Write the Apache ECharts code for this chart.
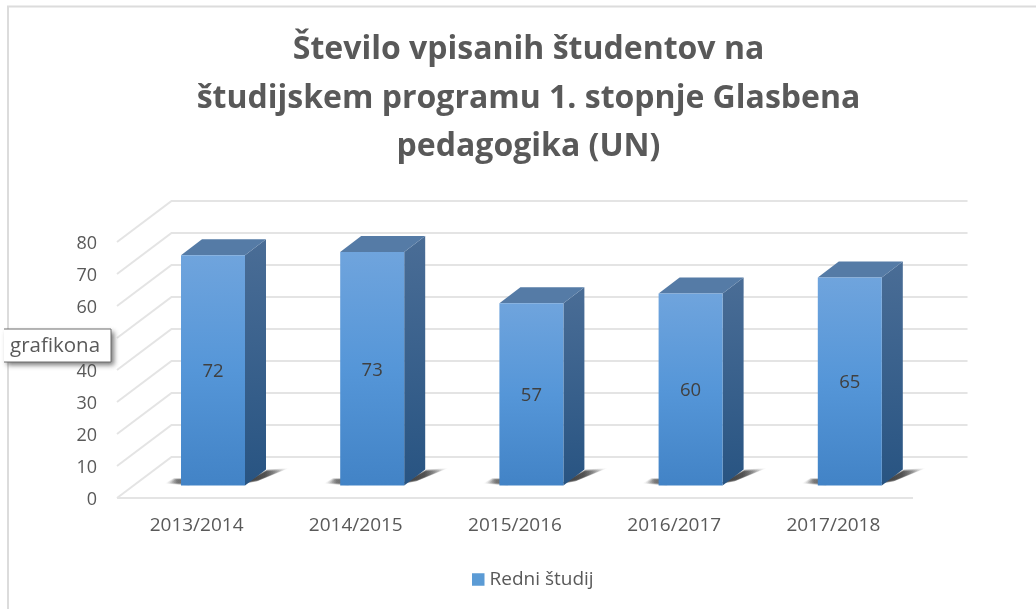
<!DOCTYPE html>
<html>
<head>
<meta charset="utf-8">
<title>Število vpisanih študentov</title>
<script src="https://cdn.jsdelivr.net/npm/echarts@6/dist/echarts.min.js"></script>
<style>
html, body { margin: 0; padding: 0; background: #fff; }
#main { width: 1036px; height: 609px; filter: blur(0.5px); }
</style>
</head>
<body>
<div id="main"></div>
<script>
var categories = ['2013/2014', '2014/2015', '2015/2016', '2016/2017', '2017/2018'];
var values = [72, 73, 57, 60, 65];
var tickValues = [0, 10, 20, 30, 40, 50, 60, 70, 80];
var seriesName = 'Redni študij';
var titleText = 'Število vpisanih študentov na\nštudijskem programu 1. stopnje Glasbena\npedagogika (UN)';

var chart = echarts.init(document.getElementById('main'));
var fontName = '"Open Sans", sans-serif';

// fake 3d: depth of the wall and of the bars, in px
var wallDx = 54.5, wallDy = -41;
var barShiftX = 16.4, barShiftY = -12.4;
var barWidth = 64, barDx = 21, barDy = -16;

function renderWall(params, api) {
    var sys = params.coordSys;
    var y = api.coord([0, api.value(1)])[1];
    var pts = [[sys.x, y], [sys.x + wallDx, y + wallDy], [sys.x + sys.width + wallDx, y + wallDy]];
    var lineStyle = { stroke: '#e4e4e4', lineWidth: 2, fill: null };
    if (api.value(1) === 0) {
        // floor: also the front edge, no slant on the right side
        return {
            type: 'group',
            children: [
                { type: 'polyline', shape: { points: pts }, style: lineStyle },
                { type: 'line', shape: { x1: sys.x, y1: y, x2: sys.x + sys.width, y2: y }, style: lineStyle }
            ]
        };
    }
    return { type: 'polyline', shape: { points: pts }, style: lineStyle };
}

// soft floor shadow: same quad a few times, growing, fading towards one side
function softShadow(pts, maxScale, fadeLeft, alpha) {
    var cx = 0, cy = 0, out = [];
    pts.forEach(function (p) { cx += p[0] / pts.length; cy += p[1] / pts.length; });
    for (var k = 7; k >= 0; k--) {
        var s = 1 + (maxScale - 1) * k / 7;
        out.push({
            type: 'polygon',
            shape: { points: pts.map(function (p) { return [cx + (p[0] - cx) * s, cy + (p[1] - cy) * s]; }) },
            style: {
                fill: {
                    type: 'linear', x: fadeLeft ? 1 : 0, y: 0, x2: fadeLeft ? 0 : 1, y2: 0,
                    colorStops: [
                        { offset: 0, color: 'rgba(25,25,25,' + alpha + ')' },
                        { offset: 0.5, color: 'rgba(25,25,25,' + alpha * 0.8 + ')' },
                        { offset: 1, color: 'rgba(25,25,25,0)' }
                    ]
                }
            }
        });
    }
    return out;
}

function renderBar(params, api) {
    var base = api.coord([api.value(0), 0]);
    var top = api.coord([api.value(0), api.value(1)]);
    var l = base[0] + barShiftX - barWidth / 2;
    var r = l + barWidth;
    var b = base[1] + barShiftY;
    var t = top[1] + barShiftY;
    var shadows = softShadow([[r + 3, b - 4], [r + 21, b - 14], [r + 36, b - 15], [r + 14, b - 6]], 1.5, false, 0.2)
        .concat(softShadow([[l - 10, b - 3], [l - 5, b - 6], [l + 4, b - 6], [l + 4, b - 2]], 1.8, true, 0.13));
    return {
        type: 'group',
        children: shadows.concat([
            {
                type: 'polygon',
                shape: { points: [[r, t], [r + barDx, t + barDy], [r + barDx, b + barDy], [r, b]] },
                style: {
                    fill: { type: 'linear', x: 0, y: 0, x2: 0, y2: 1, colorStops: [
                        { offset: 0, color: '#4a6d96' },
                        { offset: 1, color: '#285482' }
                    ] }
                }
            },
            {
                type: 'polygon',
                shape: { points: [[l, t], [l + barDx, t + barDy], [r + barDx, t + barDy], [r, t]] },
                style: { fill: '#557ba6' }
            },
            {
                type: 'rect',
                shape: { x: l, y: t, width: barWidth, height: b - t },
                style: {
                    fill: { type: 'linear', x: 0, y: 0, x2: 0, y2: 1, colorStops: [
                        { offset: 0, color: '#6fa4dd' },
                        { offset: 0.5, color: '#5596d8' },
                        { offset: 1, color: '#4283c6' }
                    ] }
                }
            },
            {
                type: 'text',
                style: {
                    x: (l + r) / 2, y: (t + b) / 2 + 1.5,
                    text: String(api.value(1)),
                    fill: '#404040',
                    font: '18.5px ' + fontName,
                    align: 'center', verticalAlign: 'middle'
                }
            }
        ])
    };
}

option = {
    animation: false,
    backgroundColor: '#ffffff',
    title: {
        text: titleText,
        left: 523.5,
        top: 21,
        textAlign: 'center',
        textStyle: {
            color: '#595959',
            fontFamily: fontName,
            fontWeight: 'bold',
            fontSize: 32,
            lineHeight: 48.5
        }
    },
    legend: {
        data: [seriesName],
        left: 472,
        top: 570,
        padding: 0,
        icon: 'rect',
        itemWidth: 12.5,
        itemHeight: 12.5,
        itemGap: 0,
        textStyle: { color: '#595959', fontFamily: fontName, fontSize: 19 }
    },
    grid: { left: 117, top: 242, width: 796, height: 256 },
    xAxis: {
        type: 'category',
        data: categories,
        axisLine: { show: false },
        axisTick: { show: false },
        axisLabel: { color: '#595959', fontFamily: fontName, fontSize: 19, margin: 18 }
    },
    yAxis: {
        type: 'value',
        min: 0,
        max: 80,
        interval: 10,
        splitLine: { show: false },
        axisLine: { show: false },
        axisTick: { show: false },
        axisLabel: {
            margin: 20,
            formatter: '{v|{value}}',
            rich: { v: { color: '#595959', fontFamily: fontName, fontSize: 18, padding: [4, 0, 0, 0] } }
        }
    },
    series: [
        {
            name: 'wall',
            type: 'custom',
            silent: true,
            renderItem: renderWall,
            encode: { x: 0, y: 1 },
            data: tickValues.map(function (v) { return [0, v]; }),
            z: 1
        },
        {
            name: seriesName,
            type: 'custom',
            renderItem: renderBar,
            itemStyle: { color: '#5b9bd5' },
            encode: { x: 0, y: 1 },
            data: values.map(function (v, i) { return [i, v]; }),
            z: 2
        }
    ],
    graphic: [
        { type: 'polyline', shape: { points: [[8, 609], [8, 6.5], [1036, 6.5]] }, style: { stroke: '#dcdcdc', lineWidth: 2, fill: null }, z: 0 },
        {
            type: 'rect', shape: { x: 4, y: 329, width: 107, height: 33 },
            style: { fill: '#fff', shadowBlur: 5, shadowOffsetX: 3, shadowOffsetY: 3, shadowColor: 'rgba(60,60,60,0.7)' },
            z: 20
        },
        { type: 'polyline', shape: { points: [[4, 329], [111, 329], [111, 362], [4, 362]] }, style: { stroke: '#6e6e6e', lineWidth: 1, fill: null }, z: 21 },
        {
            type: 'text', x: 10, y: 346,
            style: { text: 'grafikona', fill: '#595959', font: '20.5px ' + fontName, verticalAlign: 'middle' },
            z: 22
        }
    ]
};

chart.setOption(option);
</script>
</body>
</html>
